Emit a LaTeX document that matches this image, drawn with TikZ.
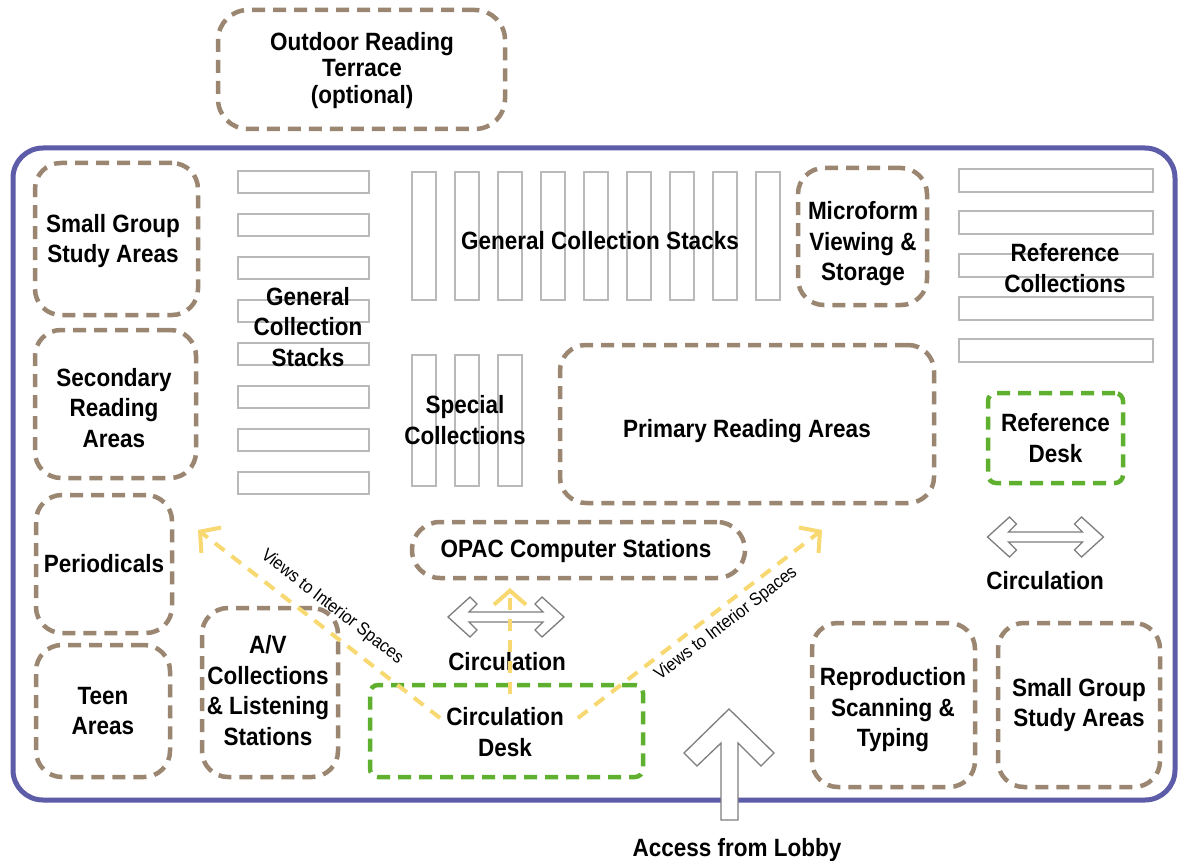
\documentclass[tikz,border=0pt]{standalone}
\usepackage{fontspec}
\setmainfont{Liberation Sans}[FakeStretch=0.9]
\usetikzlibrary{arrows.meta}
\definecolor{brownc}{RGB}{155,134,113}
\definecolor{greenc}{RGB}{96,176,48}
\definecolor{bluec}{RGB}{92,92,168}
\definecolor{yellowc}{RGB}{248,216,112}
\definecolor{stackc}{RGB}{185,185,185}
\definecolor{arrowc}{RGB}{125,125,125}
\begin{document}
\begin{tikzpicture}[x=1pt,y=-1pt,
  lbl/.style={font=\fontsize{25}{30.5}\selectfont\bfseries, align=center, inner sep=0pt, text=black},
  room/.style={lbl, draw=brownc, line width=4.5pt, dash pattern=on 13pt off 8pt, rounded corners=26pt},
  desk/.style={lbl, draw=greenc, line width=4.5pt, dash pattern=on 13pt off 8pt, rounded corners=8pt},
  stackbox/.style={draw=stackc, line width=2pt},
  frame/.style={draw=bluec, line width=5pt, rounded corners=30pt},
  view/.style={draw=yellowc, line width=4pt, dash pattern=on 12pt off 9pt, -{Straight Barb[length=14pt,width=32pt]}},
  viewlbl/.style={font=\fontsize{18}{19}\selectfont, inner sep=0pt},
  hollow/.style={draw=arrowc, fill=white, line width=1.3pt, line join=miter},
  dblarrow/.pic={\path[hollow] (-58,0) -- (-36,-20) -- (-29,-13) -- (-37,-5) -- (37,-5) -- (29,-13) -- (36,-20) -- (58,0) -- (36,20) -- (29,13) -- (37,5) -- (-37,5) -- (-29,13) -- (-36,20) -- cycle;}
]
\useasboundingbox[fill=white] (0,0) rectangle (1178,861);

% outer frame
\draw[frame] (13,148) rectangle (1175,800);

% stacks
\foreach \i in {0,...,7} \draw[stackbox] (238,{171+43*\i}) rectangle ++(131,22);
\foreach \i in {0,...,8} \draw[stackbox] ({412+43*\i},172) rectangle ++(24,128);
\foreach \i in {0,1,2} \draw[stackbox] ({412+43*\i},355) rectangle ++(24,131);
\foreach \i in {0,...,4} \draw[stackbox] (959,{169+42.5*\i}) rectangle ++(194,23);

% rooms
\node[room, rounded corners=30pt, minimum width=287pt, minimum height=119pt] (terrace) at (361.5,69.5) {};
\node[lbl, font=\fontsize{25}{26.8}\selectfont\bfseries] (terracetxt) at (362,70.5) {Outdoor Reading\\Terrace\\(optional)};
\node[room, minimum width=163pt, minimum height=152pt] (sgl) at (116.5,239) {};
\node[lbl] (sgltxt) at (113,241) {Small Group\\Study Areas};
\node[room, minimum width=161pt, minimum height=148pt] (sec) at (115.5,404) {};
\node[lbl] (sectxt) at (114,408) {Secondary\\Reading\\Areas};
\node[room, minimum width=136pt, minimum height=138pt] (per) at (104,564) {Periodicals};
\node[room, minimum width=134pt, minimum height=132pt] (teen) at (103,711) {Teen\\Areas};
\node[room, minimum width=136pt, minimum height=169pt] (av) at (270,692.5) {};
\node[lbl] (avtxt) at (268,690.5) {A/V\\Collections\\\&~Listening\\Stations};
\node[room, rounded corners=28pt, minimum width=333pt, minimum height=56pt] (opac) at (578.5,550) {};
\node[lbl] (opactxt) at (576,551) {OPAC Computer Stations};
\node[room, minimum width=374pt, minimum height=158pt] (prim) at (747,424) {};
\node[lbl] (primtxt) at (747,431) {Primary Reading Areas};
\node[room, minimum width=129pt, minimum height=137pt] (micro) at (862.5,236.5) {};
\node[lbl] (microtxt) at (863,244) {Microform\\Viewing \&\\Storage};
\node[room, minimum width=163pt, minimum height=164pt] (repro) at (893.5,705) {};
\node[lbl] (reprotxt) at (893,710) {Reproduction\\Scanning \&\\Typing};
\node[room, minimum width=162pt, minimum height=164pt] (sgr) at (1079,705) {Small Group\\Study Areas};

% desks
\node[desk, minimum width=273pt, minimum height=92pt] (cdesk) at (506.5,731) {};
\node[lbl] (cdesktxt) at (505,732) {Circulation\\Desk};
\node[desk, minimum width=135pt, minimum height=90pt] (rdesk) at (1055.5,438) {Reference\\Desk};

% stack labels
\node[lbl] (gcs1) at (600,241) {General Collection Stacks};
\node[lbl] (gcs2) at (308,327) {General\\Collection\\Stacks};
\node[lbl] (spc) at (465,420) {Special\\Collections};
\node[lbl] (refc) at (1065,268) {Reference\\Collections};

% circulation arrows
\pic at (506,617) {dblarrow};
\pic at (1045.5,537) {dblarrow};
\node[lbl] (circ1) at (507,662) {Circulation};
\node[lbl] (circ2) at (1045,581) {Circulation};

% views
\coordinate (vl0) at (440,718); \coordinate (vl1) at (198,530);
\coordinate (vr0) at (578,718); \coordinate (vr1) at (822,530);
\coordinate (vm0) at (510,694); \coordinate (vm1) at (510,588);
\draw[view] (vl0) -- (vl1);
\draw[view] (vr0) -- (vr1);
\draw[view] (vm0) -- (vm1);
\node[viewlbl, rotate=-37.8] (vlt) at (332,607) {Views to Interior Spaces};
\node[viewlbl, rotate=37.6] (vrt) at (726,624) {Views to Interior Spaces};

% access arrow
\path[hollow] (729,709) -- (774,753) -- (761,766) -- (738,743) -- (738,820) -- (721,820) -- (721,743) -- (697,766) -- (684,753) -- cycle;
\node[lbl, anchor=base] (lobby) at (737,856) {Access from Lobby};
\end{tikzpicture}
\end{document}
